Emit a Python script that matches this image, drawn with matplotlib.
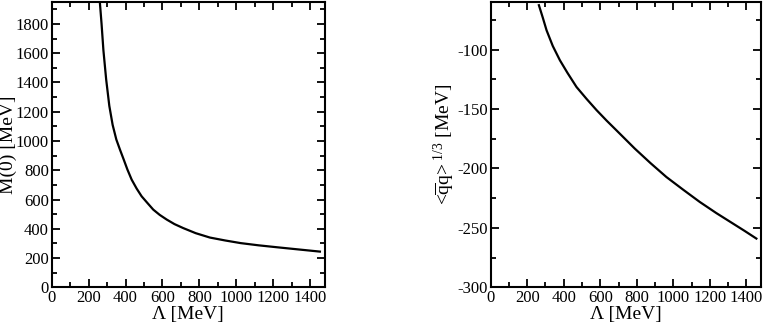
import matplotlib
matplotlib.use("Agg")
import matplotlib.pyplot as plt
from matplotlib.ticker import MultipleLocator

# values
lam_mass = [261, 270, 280, 295, 312, 330, 350, 370, 388, 410, 433, 460, 487, 520,
            550, 585, 623, 665, 712, 780, 857, 940, 1024, 1120, 1218, 1335, 1453]
mass0 = [1944, 1800, 1620, 1420, 1240, 1110, 1010, 940, 880, 805, 736, 675, 622, 574,
         531, 495, 463, 432, 405, 370, 340, 320, 302, 287, 274, 259, 244]

lam_cond = [264, 285, 306, 340, 379, 420, 470, 525, 580, 635, 689, 740, 789, 875,
            962, 1055, 1145, 1235, 1327, 1390, 1455]
cond = [-62.7, -73, -83.8, -97, -109, -119.5, -131.5, -141.5, -151, -159.8, -168,
        -175.8, -183.3, -195.5, -207.2, -218, -228.2, -237.5, -246.4, -252.5, -259]

plt.rcParams['font.family'] = ['Liberation Serif', 'DejaVu Serif']
plt.rcParams['mathtext.fontset'] = 'custom'
plt.rcParams['mathtext.rm'] = 'Liberation Serif'
plt.rcParams['mathtext.it'] = 'Liberation Serif:italic'
plt.rcParams['axes.unicode_minus'] = False

fig = plt.figure(figsize=(7.63, 3.27), dpi=100)
ax1 = fig.add_axes([0.0678, 0.1214, 0.358, 0.8725])
ax2 = fig.add_axes([0.6431, 0.1214, 0.3542, 0.8725])


def style_axes(ax, ymajor, yminor):
    ax.set_xlim(0, 1480)
    ax.xaxis.set_major_locator(MultipleLocator(200))
    ax.xaxis.set_minor_locator(MultipleLocator(100))
    ax.yaxis.set_major_locator(MultipleLocator(ymajor))
    ax.yaxis.set_minor_locator(MultipleLocator(yminor))
    ax.tick_params(which='both', direction='in', top=True, right=True,
                   width=1.3, labelsize=12, pad=2)
    ax.tick_params(which='major', length=6)
    ax.tick_params(which='minor', length=3.5)
    for s in ax.spines.values():
        s.set_linewidth(1.5)
    ax.set_xlabel('Λ [MeV]', fontsize=14, labelpad=0)


ax1.plot(lam_mass, mass0, color='black', lw=1.6)
style_axes(ax1, 200, 100)
ax1.set_ylim(0, 1950)
ax1.set_ylabel('M(0) [MeV]', fontsize=14)
ax1.yaxis.set_label_coords(-0.128, 0.5)

ax2.plot(lam_cond, cond, color='black', lw=1.6)
style_axes(ax2, 50, 25)
ax2.set_ylim(-300, -60)
ax2.set_ylabel(r'<$\mathrm{\overline{q}q}$>$^{\ 1/3}$ [MeV]', fontsize=14)
ax2.yaxis.set_label_coords(-0.12, 0.5)

fig.savefig('out.png', dpi=100)
